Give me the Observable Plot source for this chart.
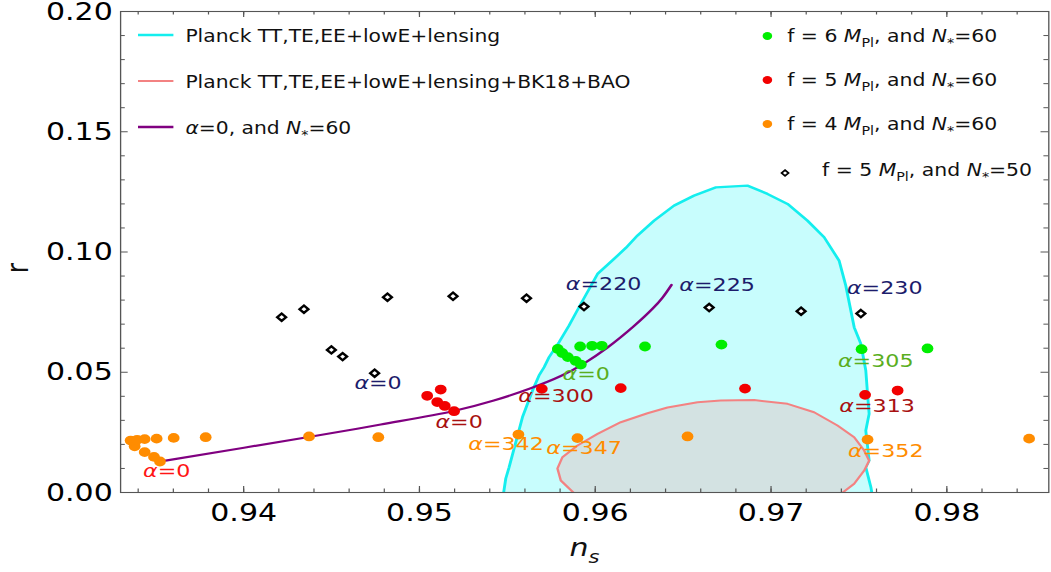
<!DOCTYPE html>
<html><head><meta charset="utf-8">
<script src="https://cdn.jsdelivr.net/npm/d3@7"></script>
<script src="https://cdn.jsdelivr.net/npm/@observablehq/plot@0.6"></script>
<style>
body{margin:0;background:#fff;overflow:hidden}
#chart{width:1051px;height:572px;overflow:hidden}
#chart svg{transform:scaleX(1.2);transform-origin:0 0;display:block}
</style></head><body><div id="chart"></div>
<script>
// ---------- data ----------
const xMajor = [0.94, 0.95, 0.96, 0.97, 0.98];
const xMinor = [0.934,0.936,0.938,0.940,0.942,0.944,0.946,0.948,0.950,0.952,0.954,0.956,0.958,0.960,0.962,0.964,0.966,0.968,0.970,0.972,0.974,0.976,0.978,0.980,0.982,0.984];
const yMajor = [0, 0.05, 0.10, 0.15, 0.20];
const yMinor = [0.01,0.02,0.03,0.04,0.06,0.07,0.08,0.09,0.11,0.12,0.13,0.14,0.16,0.17,0.18,0.19];

// Planck TT,TE,EE+lowE+lensing contour
const cyanNs = [0.95479,0.95491,0.95510,0.95548,0.95586,0.95643,0.95680,0.95709,0.95737,0.95794,0.95851,0.95918,0.96013,0.96107,0.96174,0.96240,0.96335,0.96448,0.96562,0.96686,0.96866,0.96980,0.97094,0.97207,0.97302,0.97387,0.97425,0.97473,0.97511,0.97539,0.97549,0.97558,0.97539,0.97558,0.97539,0.97568,0.97573];
const cyanR  = [0,0.00582,0.01052,0.0209,0.0313,0.0424,0.04863,0.05208,0.05623,0.06247,0.06941,0.07843,0.0909,0.09713,0.1017,0.10682,0.11305,0.11929,0.12344,0.12689,0.1276,0.12415,0.11999,0.11305,0.10611,0.09643,0.08604,0.0687,0.0618,0.05071,0.04102,0.03271,0.02577,0.0133,0.01052,0.0022,0];

// Planck TT,TE,EE+lowE+lensing+BK18+BAO contour
const pinkNs = [0.95875,0.95804,0.95785,0.95813,0.95899,0.96013,0.96145,0.96297,0.96411,0.96582,0.96714,0.96904,0.97094,0.97245,0.97378,0.97473,0.97530,0.97558,0.97530,0.97473,0.97408];
const pinkR  = [0,0.00499,0.00998,0.01467,0.01953,0.0244,0.02922,0.03296,0.03533,0.03753,0.03824,0.03845,0.03687,0.03337,0.02785,0.02298,0.01746,0.0133,0.00914,0.00362,0];

// alpha = 0, N* = 60 curve
const lineNs = [0.93547,0.94370,0.94780,0.95195,0.95423,0.95633,0.95804,0.95935,0.96071,0.96219,0.96327,0.96384,0.96434];
const lineR  = [0.01318,0.02307,0.02826,0.03387,0.03824,0.04335,0.04842,0.05362,0.06035,0.06912,0.07648,0.08117,0.08633];

// f = 6 MPl, N* = 60
const greenNs = [0.95918,0.95889,0.95844,0.95812,0.95787,0.95914,0.95982,0.96037,0.96283,0.96718,0.97515,0.97890];
const greenR  = [0.0532,0.0547,0.0563,0.0580,0.0597,0.0607,0.0610,0.0610,0.0607,0.0615,0.0596,0.0599];

// f = 5 MPl, N* = 60
const redNs = [0.95197,0.95144,0.95101,0.95044,0.95121,0.95696,0.96145,0.96852,0.97535,0.97720];
const redR  = [0.0338,0.0360,0.0376,0.0402,0.0428,0.0431,0.0434,0.0432,0.0406,0.0424];

// f = 4 MPl, N* = 60
const orangeNs = [0.93524,0.93490,0.93437,0.93380,0.93357,0.93394,0.93437,0.93505,0.93602,0.93784,0.94372,0.94766,0.95563,0.95899,0.96525,0.97549,0.98468];
const orangeR  = [0.0129,0.0148,0.0168,0.0192,0.0216,0.0219,0.0222,0.0224,0.0227,0.0230,0.0233,0.0230,0.0241,0.0226,0.0233,0.0220,0.0224];

// f = 5 MPl, N* = 50
const diaNs = [0.94745,0.94563,0.94499,0.94216,0.94343,0.94818,0.95191,0.95609,0.95936,0.96648,0.97171,0.97511];
const diaR  = [0.0496,0.0565,0.0593,0.0729,0.0762,0.0812,0.0816,0.0808,0.0773,0.0769,0.0754,0.0744];

// alpha annotations
const labText  = ["0","220","225","230","0","300","313","0","0","305","342","347","352"];
const labNs    = [0.94768,0.96051,0.96697,0.97650,0.95229,0.95781,0.97607,0.93566,0.95952,0.97599,0.95496,0.95940,0.97656];
const labR     = [0.0455,0.0869,0.0862,0.0852,0.0295,0.0403,0.0362,0.0091,0.0495,0.0549,0.0204,0.0187,0.0175];
const labGroup = ["N50","N50","N50","N50","f5","f5","f5","f4zero","f6","f6","f4","f4","f4"];

const legendLeft = [
  [["Planck TT,TE,EE+lowE+lensing",""]],
  [["Planck TT,TE,EE+lowE+lensing+BK18+BAO",""]],
  [["α","i"],["=0, and ",""],["N","i"],["*","sub"],["=60",""]]
];
const legendRight = [
  [["f = 6 ",""],["M","i"],["Pl","sub"],[", and ",""],["N","i"],["*","sub"],["=60",""]],
  [["f = 5 ",""],["M","i"],["Pl","sub"],[", and ",""],["N","i"],["*","sub"],["=60",""]],
  [["f = 4 ",""],["M","i"],["Pl","sub"],[", and ",""],["N","i"],["*","sub"],["=60",""]],
  [["f = 5 ",""],["M","i"],["Pl","sub"],[", and ",""],["N","i"],["*","sub"],["=50",""]]
];

// ---------- styles ----------
const C = {
  cyanFill:"#c8fdfd", cyanStroke:"#14eeee", pinkFill:"#d3e2e2", pinkStroke:"#f38282",
  purple:"#800080", green:"#00ee00", red:"#f20000", orange:"#ff8c00",
  labels:{N50:"#1c1c6b", f5:"#a81010", f4zero:"#ff1414", f6:"#5aae1e", f4:"#ff8c00"},
  axis:"#555"
};
const FONT = "DejaVu Sans";
const W = 876, Hh = 572, mL = 100, mR = 2.5, mT = 11, mB = 80;
const fw = W - mL - mR, fh = Hh - mT - mB;

const cyan = d3.zip(cyanNs, cyanR);
const pink = d3.zip(pinkNs, pinkR);
const curve = d3.zip(lineNs, lineR);
const green = d3.zip(greenNs, greenR);
const red = d3.zip(redNs, redR);
const orange = d3.zip(orangeNs, orangeR);
const dia = d3.zip(diaNs, diaR);

const plot = Plot.plot({
  width: W, height: Hh, marginLeft: mL, marginRight: mR, marginTop: mT, marginBottom: mB,
  style: {fontFamily: FONT, background: "white", color: "black"},
  x: {domain: [0.933, 0.9858], axis: null},
  y: {domain: [0, 0.2], axis: null},
  marks: [
    Plot.line(cyan, {x: "0", y: "1", fill: C.cyanFill, stroke: C.cyanStroke, strokeWidth: 2.4, clip: true}),
    Plot.line(pink, {x: "0", y: "1", fill: C.pinkFill, stroke: C.pinkStroke, strokeWidth: 2, clip: true}),
    Plot.line(curve, {x: "0", y: "1", stroke: C.purple, strokeWidth: 2.2, curve: "catmull-rom"}),
    Plot.dot(orange, {x: "0", y: "1", r: 4.9, fill: C.orange}),
    Plot.dot(red, {x: "0", y: "1", r: 4.9, fill: C.red}),
    Plot.dot(green, {x: "0", y: "1", r: 4.9, fill: C.green}),
    Plot.dot(dia, {x: "0", y: "1", r: 3.3, symbol: "diamond2", stroke: "black", strokeWidth: 2.2, fill: "white"}),
    // ticks (inward) on all four sides
    Plot.tickX(xMinor, {x: d => d, stroke: C.axis, insetTop: fh - 3.5}),
    Plot.tickX(xMajor, {x: d => d, stroke: C.axis, insetTop: fh - 6}),
    Plot.tickX(xMinor, {x: d => d, stroke: C.axis, insetBottom: fh - 3.5}),
    Plot.tickX(xMajor, {x: d => d, stroke: C.axis, insetBottom: fh - 6}),
    Plot.tickY(yMinor, {y: d => d, stroke: C.axis, insetRight: fw - 4}),
    Plot.tickY(yMajor, {y: d => d, stroke: C.axis, insetRight: fw - 6.4}),
    Plot.tickY(yMinor, {y: d => d, stroke: C.axis, insetLeft: fw - 4}),
    Plot.tickY(yMajor, {y: d => d, stroke: C.axis, insetLeft: fw - 6.4}),
    Plot.frame({stroke: C.axis, strokeWidth: 1.1}),
    Plot.axisX({ticks: xMajor, tickSize: 0, tickPadding: 11, fontSize: 25, tickFormat: d3.format(".2f"), label: null}),
    Plot.axisY({ticks: yMajor, tickSize: 0, tickPadding: 6.5, fontSize: 25, tickFormat: d3.format(".2f"), label: null})
  ]
});
document.getElementById("chart").appendChild(plot);

// ---------- rich-text overlay (positions through Plot's scales) ----------
const sx = plot.scale("x"), sy = plot.scale("y");
const svg = d3.select(plot);
const g = svg.append("g").attr("font-family", FONT).attr("text-anchor", "start");

function rich(sel, parts, fs) {
  let shifted = false;
  for (const [t, k] of parts) {
    const ts = sel.append("tspan").text(t);
    if (k === "i") ts.attr("font-style", "italic");
    if (k === "sub") { ts.attr("font-size", fs * 0.7).attr("dy", fs * 0.28); shifted = true; }
    else if (shifted) { ts.attr("dy", -fs * 0.28); shifted = false; }
  }
}

// alpha labels
const LFS = 18.5;
labText.forEach((t, i) => {
  const el = g.append("text")
    .attr("x", sx.apply(labNs[i])).attr("y", sy.apply(labR[i]) + LFS * 0.36)
    .attr("text-anchor", "middle").attr("font-size", LFS).attr("fill", C.labels[labGroup[i]]);
  rich(el, [["α", "i"], ["=" + t, ""]], LFS);
});

// legend (left)
const GFS = 16.9, RFS = 17;
const leftColors = [[C.cyanStroke, 2.6], [C.pinkStroke, 2], [C.purple, 2.3]];
const leftY = [35, 81, 127];
legendLeft.forEach((parts, i) => {
  g.append("line").attr("x1", 115).attr("x2", 144.5).attr("y1", leftY[i]).attr("y2", leftY[i])
    .attr("stroke", leftColors[i][0]).attr("stroke-width", leftColors[i][1]);
  const el = g.append("text").attr("x", 154.5).attr("y", leftY[i] + 1 + GFS * 0.36)
    .attr("text-anchor", "start").attr("font-size", GFS).attr("fill", "#111");
  rich(el, parts, GFS);
});

// legend (right)
const rightY = [36, 80, 124, 170];
const rightFill = [C.green, C.red, C.orange];
legendRight.forEach((parts, i) => {
  if (i < 3) {
    g.append("circle").attr("cx", 639.5).attr("cy", rightY[i]).attr("r", 4).attr("fill", rightFill[i]);
  } else {
    g.append("path").attr("transform", `translate(654.2,${rightY[i] + 3})`)
      .attr("d", d3.symbol(d3.symbolDiamond2, Math.PI * 2.6 * 2.6)())
      .attr("fill", "white").attr("stroke", "black").attr("stroke-width", 1.6);
  }
  const el = g.append("text").attr("x", i < 3 ? 656 : 685).attr("y", rightY[i] + RFS * 0.36)
    .attr("text-anchor", "start").attr("font-size", RFS).attr("fill", "#111");
  rich(el, parts, RFS);
});

// axis titles
g.append("text").attr("transform", "translate(23,268) rotate(-90)")
  .attr("text-anchor", "middle").attr("font-size", 25).attr("fill", "#111").text("r");
const nt = g.append("text").attr("x", 487).attr("y", 556).attr("text-anchor", "middle")
  .attr("font-size", 25).attr("fill", "#111");
rich(nt, [["n", "i"], ["s", "sub"]], 25);
nt.select("tspan:nth-child(2)").attr("font-style", "italic");
</script>
</body></html>
